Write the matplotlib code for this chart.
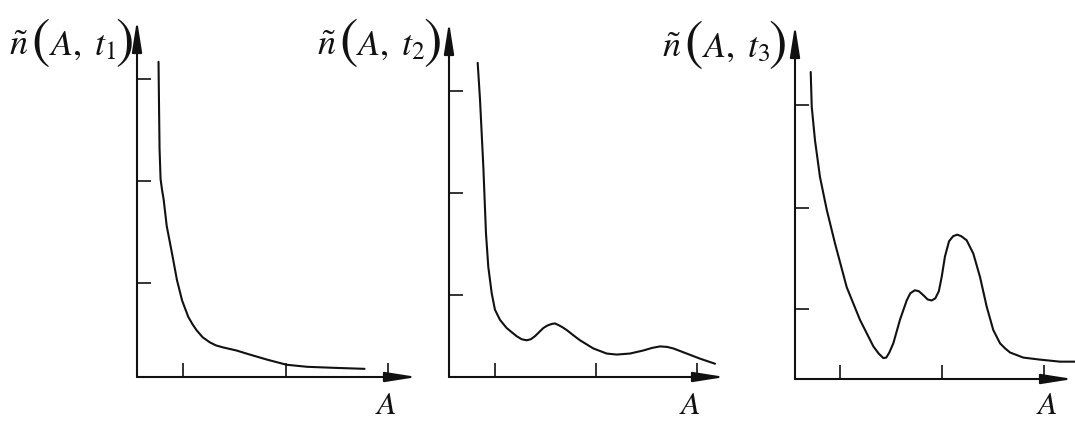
import matplotlib
matplotlib.use("Agg")
import matplotlib.pyplot as plt

plt.rcParams['mathtext.fontset'] = 'stix'
plt.rcParams['font.family'] = ['DejaVu Serif']

# ---------------- data (units: one tick spacing) ----------------
A1 = [0.21, 0.215, 0.22, 0.23, 0.245, 0.26, 0.29, 0.34, 0.39, 0.44, 0.50, 0.54,
      0.58, 0.64, 0.71, 0.77, 0.84, 0.97, 1.10, 1.27, 1.46, 1.66, 1.92, 2.22]
N1 = [3.09, 2.65, 2.24, 1.94, 1.83, 1.74, 1.48, 1.22, 0.95, 0.75, 0.59, 0.52,
      0.46, 0.39, 0.34, 0.31, 0.29, 0.26, 0.22, 0.17, 0.12, 0.10, 0.09, 0.08]

A2 = [0.284, 0.307, 0.34, 0.366, 0.389, 0.423, 0.455, 0.505, 0.571, 0.620, 0.670, 0.720,
      0.769, 0.810, 0.851, 0.934, 0.975, 1.017, 1.050, 1.082, 1.120, 1.166, 1.230, 1.297,
      1.429, 1.561, 1.660, 1.792, 1.924, 2.010, 2.089, 2.160, 2.221, 2.353, 2.485, 2.634]
N2 = [3.08, 2.72, 2.06, 1.41, 1.08, 0.82, 0.66, 0.56, 0.48, 0.44, 0.40, 0.37,
      0.36, 0.37, 0.40, 0.48, 0.505, 0.52, 0.525, 0.51, 0.49, 0.46, 0.41, 0.36,
      0.28, 0.23, 0.22, 0.23, 0.26, 0.285, 0.30, 0.295, 0.28, 0.23, 0.18, 0.13]

A3 = [0.154, 0.164, 0.196, 0.245, 0.311, 0.392, 0.507, 0.637, 0.768, 0.820, 0.866, 0.895,
      0.925, 0.964, 1.029, 1.095, 1.130, 1.175, 1.215, 1.260, 1.300, 1.340, 1.375, 1.410,
      1.438, 1.470, 1.510, 1.550, 1.590, 1.630, 1.683, 1.748, 1.814, 1.879, 1.944, 2.010,
      2.060, 2.108, 2.238, 2.402, 2.598, 2.745]
N3 = [3.01, 2.67, 2.34, 1.98, 1.66, 1.33, 0.90, 0.58, 0.32, 0.25, 0.205, 0.21,
      0.26, 0.35, 0.58, 0.77, 0.84, 0.87, 0.86, 0.82, 0.78, 0.77, 0.79, 0.86,
      1.00, 1.20, 1.35, 1.40, 1.415, 1.40, 1.36, 1.23, 1.00, 0.71, 0.48, 0.35,
      0.30, 0.26, 0.21, 0.19, 0.17, 0.17]

XTICKS1 = [0.45, 1.45, 2.45]
YTICKS1 = [0.92, 1.92, 2.92]
XTICKS2 = [0.46, 1.46, 2.46]
YTICKS2 = [0.80, 1.80, 2.80]
XTICKS3 = [0.44, 1.44, 2.44]
YTICKS3 = [0.69, 1.68, 2.69]

YFUNC = r'$\tilde{n}$'
YARGS = [r'$A,\;t_{1}$', r'$A,\;t_{2}$', r'$A,\;t_{3}$']
XLABEL = r'$A$'

# ---------------- layout (pixels) ----------------
W, H = 1075, 424
# origin x, origin y, px per unit x, px per unit y, x tip, y tip
layout = [
    (137, 377, 102.5, 102, 417, 20),
    (449, 377, 101.0, 102, 725, 22),
    (795, 379, 102.0, 102, 1073, 25),
]
label_right = [130, 438, 783]
label_base = [55, 55, 57]
xlabel_px = [386, 690, 1047]
ink = '#111111'

fig = plt.figure(figsize=(W / 100, H / 100), dpi=100)
fig.patch.set_facecolor('white')


def ftext(px, py, s, **kw):
    return fig.text(px / W, 1 - py / H, s, color=ink, **kw)


panels = [(A1, N1, XTICKS1, YTICKS1), (A2, N2, XTICKS2, YTICKS2),
          (A3, N3, XTICKS3, YTICKS3)]

for i, ((ax_x, ax_y, xt, yt), (ox, oy, sx, sy, xtip, ytip)) in enumerate(zip(panels, layout)):
    ax = fig.add_axes([ox / W, 1 - oy / H, (xtip - ox) / W, (oy - ytip) / H])
    xmax = (xtip - ox) / sx
    ymax = (oy - ytip) / sy
    ax.set_xlim(0, xmax)
    ax.set_ylim(0, ymax)
    ax.patch.set_alpha(0)
    for s in ax.spines.values():
        s.set_visible(False)
    ax.set_xticks(xt)
    ax.set_yticks(yt)
    ax.tick_params(direction='in', length=10, width=1.2, color=ink,
                   labelbottom=False, labelleft=False)
    # axes with arrows
    ap = dict(arrowstyle='-|>,head_length=1.9,head_width=0.3', color=ink,
              lw=1.5, shrinkA=0, shrinkB=0)
    ax.annotate('', xy=(xmax, 0), xytext=(0, 0), arrowprops=ap,
                annotation_clip=False)
    ax.annotate('', xy=(0, ymax), xytext=(0, 0), arrowprops=ap,
                annotation_clip=False)
    # curve
    ax.plot(ax_x, ax_y, color=ink, lw=1.5, solid_joinstyle='round',
            solid_capstyle='round', clip_on=False)

    # y label  ñ( A, t_i )  with tall parentheses
    R = label_right[i]
    b = label_base[i]
    ftext(R - 111, b, YFUNC, ha='center', va='baseline', fontsize=26)
    ftext(R - 90, b - 13, r'$($', ha='center', va='center', fontsize=40)
    ftext(R - 47, b, YARGS[i], ha='center', va='baseline', fontsize=26)
    ftext(R - 6, b - 13, r'$)$', ha='center', va='center', fontsize=40)

    # x label
    ftext(xlabel_px[i], 421, XLABEL, ha='center', va='bottom', fontsize=23)

fig.savefig('out.png', dpi=100, facecolor='white')
